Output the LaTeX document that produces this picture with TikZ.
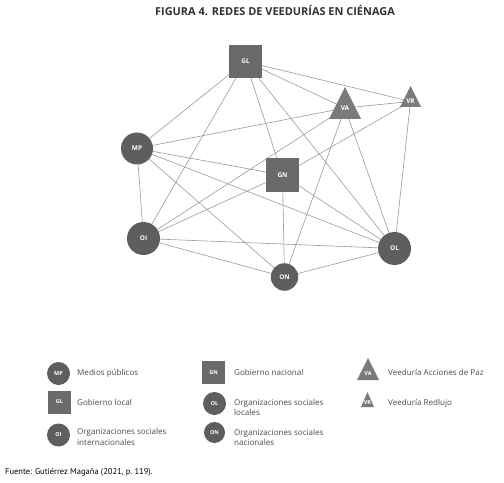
\documentclass[tikz,border=0pt]{standalone}
\usepackage{fontspec}
\setmainfont{Open Sans}
\newfontfamily\titlefont{PT Sans}
\usetikzlibrary{backgrounds}
\definecolor{circ}{HTML}{5E5E5E}
\definecolor{sqc}{HTML}{6A6A6A}
\definecolor{tric}{HTML}{7A7A7A}
\definecolor{edgec}{HTML}{9A9A9A}
\definecolor{txtc}{HTML}{4A4A4A}
\definecolor{titc}{HTML}{333333}
\tikzset{
  cnode/.style={circle, fill=circ, text=white, inner sep=0pt, minimum size=#1,
    font=\bfseries\fontsize{6.5}{6.5}\selectfont},
  snode/.style={rectangle, fill=sqc, text=white, inner sep=0pt, minimum size=#1,
    font=\bfseries\fontsize{6.5}{6.5}\selectfont},
  tlabel/.style={text=white, inner sep=0.5pt, font=\bfseries\fontsize{6.5}{6.5}\selectfont},
  lcnode/.style={circle, fill=circ, text=white, inner sep=0pt, minimum size=#1,
    font=\bfseries\fontsize{5.5}{5.5}\selectfont},
  lsnode/.style={rectangle, fill=sqc, text=white, inner sep=0pt, minimum size=#1,
    font=\bfseries\fontsize{5.5}{5.5}\selectfont},
  ltlabel/.style={text=white, inner sep=0pt, font=\bfseries\fontsize{5.5}{5.5}\selectfont},
  legtext/.style={anchor=west, align=left, inner sep=0pt, text=txtc,
    font=\fontsize{8.1}{10.5}\selectfont},
  link/.style={draw=edgec, line width=0.6bp},
}
\begin{document}
\begin{tikzpicture}[x=1bp,y=-1bp]
\useasboundingbox (0,0) rectangle (504,483);
% title
\node[text=titc, font=\bfseries\fontsize{11}{12}\selectfont, inner sep=0pt] (title) at (275,10) {FIGURA 4. REDES DE VEEDURÍAS EN CIÉNAGA};
% network nodes
\node[snode=33bp] (GL) at (245.5,61.5) {GL};
\node[snode=33bp] (GN) at (282.5,175) {GN};
\node[cnode=32bp] (MP) at (137,148.5) {MP};
\node[cnode=33bp] (OI) at (143.5,238.5) {OI};
\node[cnode=33bp] (OL) at (394.5,248.5) {OL};
\node[cnode=27.5bp] (ON) at (284.5,277) {ON};
\fill[tric] (345,87) -- (361,119) -- (329,119) -- cycle;
\node[tlabel] (VA) at (345,108) {VA};
\fill[tric] (410.5,86) -- (421,107) -- (400,107) -- cycle;
\node[tlabel] (VR) at (410.5,101.5) {VR};
% edges
\begin{scope}[on background layer]
\draw[link] (GL) -- (MP);
\draw[link] (GL) -- (OI);
\draw[link] (GL) -- (GN);
\draw[link] (GL) -- (OL);
\draw[link] (GL) -- (VA);
\draw[link] (GL) -- (VR);
\draw[link] (MP) -- (VA);
\draw[link] (VA) -- (VR);
\draw[link] (MP) -- (GN);
\draw[link] (MP) -- (OL);
\draw[link] (MP) -- (ON);
\draw[link] (MP) -- (OI);
\draw[link] (VA) -- (OI);
\draw[link] (VA) -- (ON);
\draw[link] (VA) -- (OL);
\draw[link] (VR) -- (GN);
\draw[link] (VR) -- (OL);
\draw[link] (GN) -- (OI);
\draw[link] (GN) -- (ON);
\draw[link] (GN) -- (OL);
\draw[link] (OI) -- (OL);
\draw[link] (OI) -- (ON);
\draw[link] (ON) -- (OL);
\end{scope}
% legend
\node[lcnode=23bp] (lMP) at (58.5,373.5) {MP};
\node[legtext] (tMP) at (77,373.5) {Medios públicos};
\node[lsnode=23bp] (lGL) at (59.5,402) {GL};
\node[legtext] (tGL) at (77,402) {Gobierno local};
\node[lcnode=23bp] (lOI) at (58.5,435) {OI};
\node[legtext] (tOI) at (77,437) {Organizaciones sociales\\internacionales};
\node[lsnode=23bp] (lGN) at (213.5,372.5) {GN};
\node[legtext] (tGN) at (234,372.5) {Gobierno nacional};
\node[lcnode=23bp] (lOL) at (214.5,403.5) {OL};
\node[legtext] (tOL) at (234,407.5) {Organizaciones sociales\\locales};
\node[lcnode=21bp] (lON) at (214.5,432.5) {ON};
\node[legtext] (tON) at (234,437.5) {Organizaciones sociales\\nacionales};
\fill[tric] (368,358) -- (379,380) -- (357,380) -- cycle;
\node[ltlabel] (lVA) at (368,374) {VA};
\node[legtext] (tVA) at (388,372) {Veeduría Acciones de Paz};
\fill[tric] (367.5,392) -- (374,407) -- (361,407) -- cycle;
\node[ltlabel] (lVR) at (367.5,403) {VR};
\node[legtext] (tVR) at (388,403) {Veeduría Redlujo};
% source
\node[anchor=west, inner sep=0pt, text=black, font=\titlefont\fontsize{8.5}{9}\selectfont] (src) at (5,472) {Fuente: Gutiérrez Magaña (2021, p.~119).};
\end{tikzpicture}
\end{document}
